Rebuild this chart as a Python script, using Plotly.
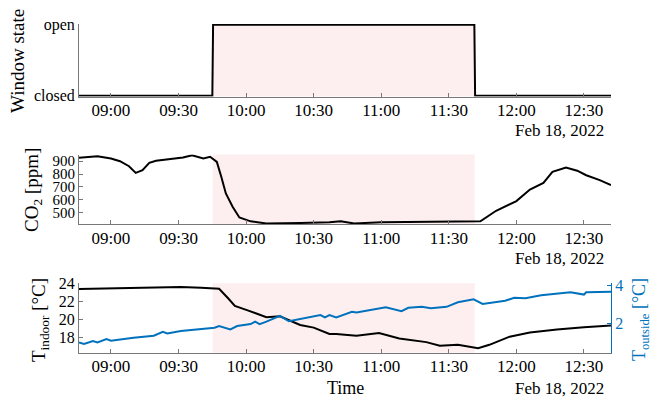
import plotly.graph_objects as go

DAY = "2022-02-18 "

# ---------------- data ----------------
window_times = ["08:45:48", "09:45:00", "09:45:20", "11:41:20", "11:41:40", "12:42:00"]
window_state = [0, 0, 1, 1, 0, 0]
window_open = "09:45:10"
window_close = "11:41:30"

co2_times = ["08:45:48", "08:54", "09:00", "09:04", "09:08", "09:11", "09:14", "09:17", "09:20",
             "09:28", "09:32", "09:36", "09:41", "09:44", "09:47", "09:49", "09:51", "09:54",
             "09:57", "10:02", "10:09", "10:24", "10:37", "10:42", "10:48", "11:00", "11:17",
             "11:44", "11:51", "12:00", "12:06", "12:12", "12:16", "12:22", "12:27", "12:31",
             "12:37", "12:42"]
co2_ppm = [926, 939, 921, 900, 861, 809, 830, 887, 903,
           921, 929, 946, 921, 934, 895, 778, 650, 546,
           463, 433, 417, 421, 425, 433, 417, 425, 430,
           433, 515, 590, 680, 732, 817, 851, 826, 791,
           753, 714]

tin_times = ["08:45:48", "09:10", "09:31", "09:40", "09:48", "09:52", "09:55", "10:01", "10:05",
             "10:09", "10:15", "10:19", "10:24", "10:30", "10:37", "10:40", "10:49", "10:59",
             "11:08", "11:20", "11:26", "11:34", "11:43", "11:48", "11:57", "12:06", "12:18",
             "12:30", "12:42"]
tin_degc = [23.37, 23.45, 23.6, 23.5, 23.4, 22.35, 21.5, 20.98, 20.6,
            20.25, 20.36, 19.9, 19.4, 19.1, 18.4, 18.4, 18.2, 18.5,
            17.9, 17.5, 17.1, 17.2, 16.83, 17.2, 18.1, 18.55, 18.9,
            19.15, 19.33]

tout_times = ["08:45:48", "08:48", "08:52", "08:54", "08:58", "09:00", "09:10", "09:19", "09:23",
              "09:25", "09:31", "09:40", "09:46", "09:48", "09:53", "09:56", "10:02", "10:04",
              "10:06", "10:09", "10:15", "10:19", "10:25", "10:33", "10:35", "10:37", "10:40",
              "10:47", "10:49", "11:02", "11:09", "11:12", "11:18", "11:22", "11:29", "11:34",
              "11:41", "11:45", "11:55", "11:59", "12:04", "12:11", "12:24", "12:30", "12:31",
              "12:42"]
tout_degc = [0.99, 0.9, 1.06, 0.99, 1.16, 1.08, 1.23, 1.34, 1.55,
             1.46, 1.59, 1.68, 1.77, 1.86, 1.68, 1.86, 1.96, 2.09,
             1.96, 2.09, 2.40, 2.11, 2.25, 2.44, 2.32, 2.44, 2.32,
             2.62, 2.58, 2.85, 2.65, 2.83, 2.88, 2.80, 2.88, 3.12,
             3.28, 3.03, 3.20, 3.36, 3.34, 3.49, 3.65, 3.53, 3.65,
             3.68]

x_start, x_end = "08:45:48", "12:42:00"
date_label = "Feb 18, 2022"

# ---------------- style ----------------
W, H = 651, 399
FONT = "Liberation Serif"
BLUE = "rgb(0,114,189)"
PINK = "rgb(253,239,239)"
GRAY = "rgb(120,120,120)"


def px_x(p):
    return p / W


def px_y(p):
    return 1 - p / H


def ts(lst):
    return [DAY + t for t in lst]


fig = go.Figure()

fig.add_trace(go.Scatter(x=ts(window_times), y=window_state, mode="lines",
                         line=dict(color="black", width=2), xaxis="x", yaxis="y",
                         showlegend=False))
fig.add_trace(go.Scatter(x=ts(co2_times), y=co2_ppm, mode="lines",
                         line=dict(color="black", width=2), xaxis="x2", yaxis="y2",
                         showlegend=False))
fig.add_trace(go.Scatter(x=ts(tin_times), y=tin_degc, mode="lines",
                         line=dict(color="black", width=2), xaxis="x3", yaxis="y3",
                         showlegend=False))
fig.add_trace(go.Scatter(x=ts(tout_times), y=tout_degc, mode="lines",
                         line=dict(color=BLUE, width=2), xaxis="x3", yaxis="y4",
                         showlegend=False))

# shaded open-window period
for xr, yr in [("x", "y"), ("x2", "y2"), ("x3", "y3")]:
    fig.add_shape(type="rect", xref=xr, yref=yr + " domain",
                  x0=DAY + window_open, x1=DAY + window_close, y0=0, y1=1,
                  fillcolor=PINK, line=dict(width=0), layer="below")

xdom = [px_x(79), px_x(611)]
xcommon = dict(domain=xdom, range=[DAY + x_start, DAY + x_end], type="date",
               tick0=DAY + "09:00", dtick=1800000, tickformat="%H:%M",
               ticks="inside", ticklen=4, tickcolor=GRAY, showline=True,
               linecolor=GRAY, linewidth=1, showgrid=False, zeroline=False,
               automargin=False, ticklabelstandoff=-2,
               tickfont=dict(family=FONT, size=17, color="black"))

ycommon = dict(ticks="inside", ticklen=4, tickcolor=GRAY, showline=True,
               linecolor=GRAY, linewidth=1, showgrid=False, zeroline=False,
               automargin=False,
               tickfont=dict(family=FONT, size=16, color="black"))

fig.update_layout(
    width=W, height=H, autosize=False,
    margin=dict(l=0, r=0, t=0, b=0, autoexpand=False),
    paper_bgcolor="white", plot_bgcolor="white",
    font=dict(family=FONT, color="black"),
    xaxis=dict(anchor="y", **xcommon),
    xaxis2=dict(anchor="y2", **xcommon),
    xaxis3=dict(anchor="y3", **xcommon),
    yaxis=dict(anchor="x", domain=[px_y(96.5), px_y(24)], range=[-0.012, 1.012],
               tickvals=[0, 1], ticktext=["closed", "open"], **ycommon),
    yaxis2=dict(anchor="x2", domain=[px_y(224.3), px_y(154.5)], range=[410, 952],
                tickvals=[500, 600, 700, 800, 900],
                **{**ycommon, "tickfont": dict(family=FONT, size=15, color="black")}),
    yaxis3=dict(anchor="x3", domain=[px_y(352.7), px_y(283.3)], range=[16.33, 24],
                tickvals=[18, 20, 22, 24], **ycommon),
    yaxis4=dict(anchor="x3", overlaying="y3", side="right", range=[0.44, 4.13],
                tickvals=[2, 4], ticks="inside", ticklen=4, tickcolor=BLUE,
                showline=True, linecolor=BLUE, linewidth=1, showgrid=False,
                zeroline=False, automargin=False,
                tickfont=dict(family=FONT, size=16, color=BLUE)),
)

ann = []
for yp in [130, 258, 388]:
    ann.append(dict(text=date_label, x=px_x(606), y=px_y(yp), xanchor="right",
                    yanchor="middle", font=dict(family=FONT, size=17, color="black")))
ann.append(dict(text="Window state", x=px_x(18), y=px_y(61), textangle=-90,
                xanchor="center", yanchor="middle",
                font=dict(family=FONT, size=19, color="black")))
ann.append(dict(text="CO<sub>2</sub> [ppm]", x=px_x(33), y=px_y(190), textangle=-90,
                xanchor="center", yanchor="middle",
                font=dict(family=FONT, size=19, color="black")))
ann.append(dict(text="T<sub>indoor</sub> [°C]", x=px_x(40), y=px_y(320), textangle=-90,
                xanchor="center", yanchor="middle",
                font=dict(family=FONT, size=19, color="black")))
ann.append(dict(text="T<sub>outside</sub> [°C]", x=px_x(640), y=px_y(320), textangle=-90,
                xanchor="center", yanchor="middle",
                font=dict(family=FONT, size=18, color=BLUE)))
ann.append(dict(text="Time", x=px_x(346), y=px_y(388), xanchor="center",
                yanchor="middle", font=dict(family=FONT, size=18, color="black")))
for a in ann:
    a.update(xref="paper", yref="paper", showarrow=False)
fig.update_layout(annotations=ann)

fig.write_html("out.html")
